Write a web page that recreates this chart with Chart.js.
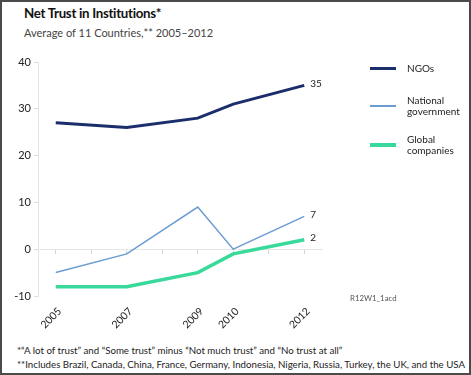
<!DOCTYPE html>
<html lang="en">
  <head>
    <meta charset="UTF-8" />
    <title>Net Trust in Institutions</title>
    <script src="https://cdn.jsdelivr.net/npm/chart.js@4.4.0/dist/chart.umd.min.js"></script>
    <style>
      html, body { margin: 0; padding: 0; background: #fff; }
      .frame {
        position: relative; width: 471px; height: 375px; box-sizing: border-box;
        border: 2px solid #4a4a4a; font-family: Lato, "Open Sans", sans-serif; color: #222; overflow: hidden;
      }
      .title { position: absolute; left: 22px; top: 3px; font-size: 13.3px; font-weight: 700; color: #111; letter-spacing: -0.3px; }
      .subtitle { position: absolute; left: 22px; top: 24px; font-size: 11px; color: #444; }
      .chart-view { position: absolute; left: -2px; top: 48px; width: 471px; height: 280px; }
      .legend { position: absolute; left: 368px; top: 60px; font-size: 10px; color: #222; line-height: 11px; }
      .legend .item { position: absolute; left: 0; width: 100px; }
      .legend .swatch { position: absolute; left: 0; width: 26px; }
      .legend .text { position: absolute; left: 37px; white-space: nowrap; }
      .code { position: absolute; left: 348px; top: 291px; font-size: 7.8px; color: #555; }
      .notes { position: absolute; left: 15px; top: 341px; font-size: 9.7px; line-height: 14px; color: #222; white-space: nowrap; }
    </style>
  </head>
  <body>
    <div class="frame">
      <div class="title">Net Trust in Institutions*</div>
      <div class="subtitle">Average of 11 Countries,** 2005–2012</div>
      <div class="chart-view"><canvas id="chart"></canvas></div>
      <div class="legend" id="legend"></div>
      <div class="code">R12W1_1acd</div>
      <div class="notes">
        *“A lot of trust” and “Some trust” minus “Not much trust” and “No trust at all”<br />
        **Includes Brazil, Canada, China, France, Germany, Indonesia, Nigeria, Russia, Turkey, the UK, and the USA
      </div>
    </div>

    <script>
      //data
      const years = [2005, 2007, 2009, 2010, 2012];
      const ngos = [27, 26, 28, 31, 35];
      const nationalGov = [-5, -1, 9, 0, 7];
      const globalCos = [-8, -8, -5, -1, 2];
      const seriesNames = ['NGOs', 'National\ngovernment', 'Global\ncompanies'];
      const yTicks = [-10, 0, 10, 20, 30, 40];

      const colors = ['#1b2d6b', '#6b9bd3', '#38d99a'];
      const widths = [3, 1.5, 3.5];

      const toPoints = (vals) => vals.map((v, i) => ({ x: years[i], y: v }));
      const allYears = [];
      for (let y = years[0]; y <= years[years.length - 1]; y++) allYears.push(y);

      // value label at the end of each line
      const endLabels = {
        id: 'endLabels',
        afterDatasetsDraw(chart) {
          const ctx = chart.ctx;
          ctx.save();
          ctx.font = '10px Lato, sans-serif';
          ctx.fillStyle = '#222';
          ctx.textBaseline = 'middle';
          chart.data.datasets.forEach((ds, i) => {
            const pts = chart.getDatasetMeta(i).data;
            const last = pts[pts.length - 1];
            ctx.fillText(String(ds.data[ds.data.length - 1].y), last.x + 6, last.y - 2);
          });
          ctx.restore();
        }
      };

      const data = {
        datasets: [
          { label: seriesNames[0], data: toPoints(ngos) },
          { label: seriesNames[1], data: toPoints(nationalGov) },
          { label: seriesNames[2], data: toPoints(globalCos) }
        ].map((d, i) => Object.assign(d, {
          borderColor: colors[i],
          backgroundColor: colors[i],
          borderWidth: widths[i],
          pointRadius: 0,
          tension: 0
        }))
      };

      const xRange = { min: years[0] - 0.5, max: years[years.length - 1] + 0.5 };

      //config
      const config = {
        type: 'line',
        data: data,
        plugins: [endLabels],
        options: {
          responsive: true,
          maintainAspectRatio: false,
          animation: false,
          layout: { padding: { top: 12, right: 149, left: 0, bottom: 0 } },
          plugins: { legend: { display: false }, tooltip: { enabled: false } },
          scales: {
            x: {
              type: 'linear',
              position: 'bottom',
              min: xRange.min,
              max: xRange.max,
              afterBuildTicks: (s) => { s.ticks = years.map((v) => ({ value: v })); },
              afterFit: (s) => { s.height = 34; },
              border: { display: false },
              grid: { display: false },
              ticks: {
                minRotation: 45,
                maxRotation: 45,
                padding: 1,
                labelOffset: 4,
                color: '#222',
                font: { family: 'Lato', size: 10.5 },
                callback: (v) => String(v)
              }
            },
            x2: {
              type: 'linear',
              axis: 'x',
              position: { y: 0 },
              min: xRange.min,
              max: xRange.max,
              afterBuildTicks: (s) => { s.ticks = allYears.map((v) => ({ value: v })); },
              border: { display: true, color: '#e6e6e6', width: 1 },
              grid: { drawOnChartArea: false, drawTicks: true, tickLength: 4, color: '#d8d8d8' },
              ticks: { display: false }
            },
            y: {
              min: yTicks[0],
              max: yTicks[yTicks.length - 1],
              afterBuildTicks: (s) => { s.ticks = yTicks.map((v) => ({ value: v })); },
              afterFit: (s) => { s.width = 38; },
              border: { display: true, color: '#e6e6e6', width: 1 },
              grid: {
                color: (c) => (c.tick && c.tick.value === 0 ? '#e6e6e6' : 'rgba(0,0,0,0)'),
                tickColor: '#dddddd',
                tickLength: 4
              },
              ticks: {
                padding: 3,
                color: '#222',
                font: { family: 'Lato', size: 11 }
              }
            }
          }
        }
      };

      //init
      const ctx = document.getElementById('chart');
      const chart = new Chart(ctx, config);

      //legend
      const legendTops = [1, 33, 72];
      const legendEl = document.getElementById('legend');
      data.datasets.forEach((ds, i) => {
        const lines = ds.label.split('\n');
        const item = document.createElement('div');
        item.className = 'item';
        item.style.top = legendTops[i] + 'px';
        const mid = lines.length * 11 / 2;
        item.innerHTML =
          '<div class="swatch" style="top:' + (mid - ds.borderWidth / 2) + 'px;height:' + ds.borderWidth +
          'px;background:' + ds.borderColor + '"></div><div class="text">' + lines.join('<br>') + '</div>';
        legendEl.appendChild(item);
      });
    </script>
  </body>
</html>
